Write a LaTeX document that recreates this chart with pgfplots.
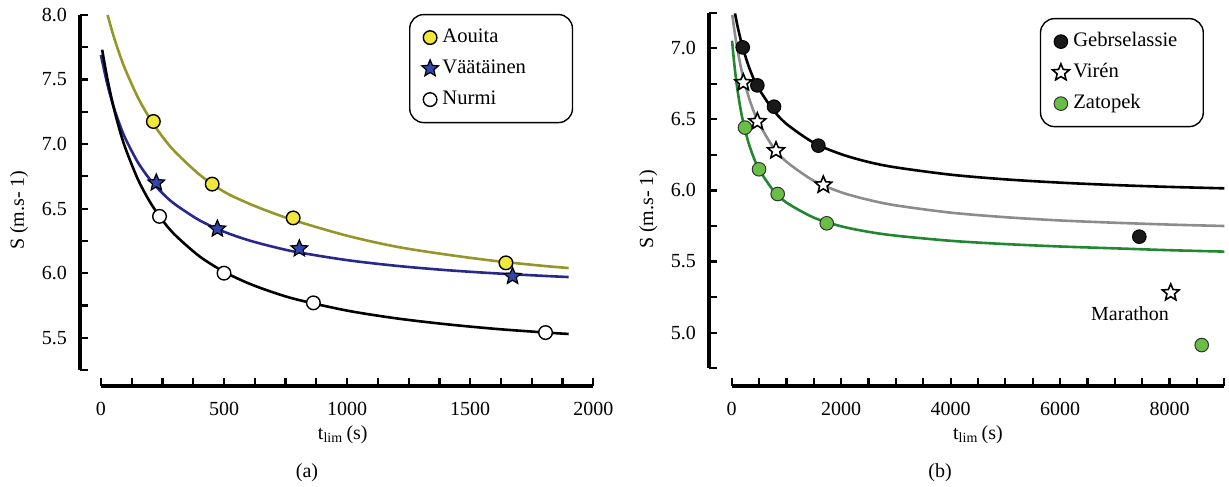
\documentclass[border=0pt]{standalone}
\usepackage{fontspec}
\setmainfont{Liberation Serif}
\usepackage{pgfplots}
\pgfplotsset{compat=1.18}
\definecolor{olivel}{RGB}{150,150,40}
\definecolor{yellowm}{RGB}{240,230,60}
\definecolor{navyl}{RGB}{40,40,140}
\definecolor{bluem}{RGB}{50,70,170}
\definecolor{grayl}{RGB}{140,140,140}
\definecolor{greenl}{RGB}{35,135,50}
\definecolor{greenm}{RGB}{105,190,70}
\pgfdeclareplotmark{fstar}{%
 \pgfpathmoveto{\pgfpointpolar{90}{\pgfplotmarksize}}%
 \pgfpathlineto{\pgfpointpolar{126}{0.45\pgfplotmarksize}}%
 \pgfpathlineto{\pgfpointpolar{162}{\pgfplotmarksize}}%
 \pgfpathlineto{\pgfpointpolar{198}{0.45\pgfplotmarksize}}%
 \pgfpathlineto{\pgfpointpolar{234}{\pgfplotmarksize}}%
 \pgfpathlineto{\pgfpointpolar{270}{0.45\pgfplotmarksize}}%
 \pgfpathlineto{\pgfpointpolar{306}{\pgfplotmarksize}}%
 \pgfpathlineto{\pgfpointpolar{342}{0.45\pgfplotmarksize}}%
 \pgfpathlineto{\pgfpointpolar{18}{\pgfplotmarksize}}%
 \pgfpathlineto{\pgfpointpolar{54}{0.45\pgfplotmarksize}}%
 \pgfpathclose
 \pgfusepathqfillstroke
}
\pgfplotsset{
 panel/.style={
  scale only axis,
  axis lines=left,
  axis line style={draw=none},
  clip=false,
  tick align=inside,
  major tick length=4bp, minor tick length=4bp,
  tick style={black, line width=1.1bp},
  tick label style={font=\fontsize{10bp}{12bp}\selectfont},
  label style={font=\fontsize{10bp}{12bp}\selectfont},
  /pgf/number format/assume math mode=true,
  /pgf/number format/1000 sep={},
  scaled x ticks=false, scaled y ticks=false,
  xticklabel style={yshift=-4.8bp},
  yticklabel style={xshift=-3bp, /pgf/number format/.cd, fixed, fixed zerofill, precision=1},
  xlabel={t\textsubscript{lim}\,(s)},
  ylabel={S (m.s- 1)},
  legend cell align=left,
  legend image code/.code={\draw[mark repeat=1,#1] plot coordinates {(0bp,0bp)};},
  legend style={anchor=north west, draw=black, line width=0.7bp, rounded corners=7bp,
    font=\fontsize{10.3bp}{12bp}\selectfont,
    inner xsep=6bp, inner ysep=4.5bp, row sep=1.5bp, column sep=0bp,
    nodes={inner xsep=2bp, inner ysep=2bp, text height=7.5bp, text depth=2.5bp}},
  curve/.style={line width=1.3bp, smooth, forget plot},
 }
}
\begin{document}
\fontsize{10bp}{12bp}\selectfont
\begin{tikzpicture}
\useasboundingbox (0,0) rectangle (614.5bp,243.5bp);
% ---------------- panel (a)
\begin{axis}[panel,
  at={(40bp,50.5bp)}, anchor=south west,
  width=256.65bp, height=185.5bp,
  xmin=-85, xmax=2000, ymin=5.126, ymax=8.0,
  xtick={0,500,1000,1500,2000},
  minor xtick={125,250,375,625,750,875,1125,1250,1375,1625,1750,1875},
  ytick={5.5,6.0,6.5,7.0,7.5,8.0},
  minor ytick={5.25,5.75,6.25,6.75,7.25,7.75},
  every axis x label/.style={at={(axis description cs:0.512,-0.132)}, anchor=center},
  every axis y label/.style={at={(axis description cs:-0.1188,0.474)}, rotate=90, anchor=center},
  legend style={at={(axis description cs:0.641,1.003)}},
]
\draw[line width=1.7bp] (axis cs:0,5.126) -- (axis cs:2000,5.126);
\draw[line width=1.7bp] (axis cs:-85,5.25) -- (axis cs:-85,8.0);
\addplot[curve, olivel] coordinates {(27,8.000) (50,7.846) (75,7.700) (100,7.573) (150,7.362) (200,7.194) (250,7.057) (300,6.943) (400,6.764) (500,6.631) (600,6.540) (700,6.465) (800,6.400) (1000,6.290) (1200,6.205) (1400,6.145) (1600,6.095) (1800,6.056) (1900,6.040)};
\addplot[curve, navyl] coordinates {(0,7.690) (25,7.472) (50,7.298) (75,7.158) (100,7.041) (150,6.859) (200,6.724) (250,6.619) (300,6.535) (400,6.410) (500,6.321) (600,6.255) (700,6.204) (800,6.162) (1000,6.101) (1200,6.057) (1400,6.024) (1600,5.999) (1800,5.979) (1900,5.970)};
\addplot[curve, black] coordinates {(5,7.731) (25,7.517) (50,7.297) (75,7.116) (100,6.965) (150,6.728) (200,6.549) (250,6.410) (300,6.298) (400,6.131) (500,6.011) (600,5.921) (700,5.851) (800,5.794) (1000,5.710) (1200,5.650) (1400,5.605) (1600,5.569) (1800,5.541) (1900,5.529)};
\addplot[only marks, mark=*, mark size=3.4bp, mark options={fill=yellowm, draw=black, line width=0.7bp, sharp corners}]
  coordinates {(213,7.175) (452,6.690) (781,6.428) (1645,6.080)};
\addlegendentry{\makebox[57bp][l]{Aouita}}
\addplot[only marks, mark=fstar, mark size=4.4bp, mark options={fill=bluem, draw=black, line width=0.6bp, sharp corners}]
  coordinates {(225,6.700) (473,6.343) (806,6.190) (1672,5.976)};
\addlegendentry{\makebox[57bp][l]{Väätäinen}}
\addplot[only marks, mark=*, mark size=3.4bp, mark options={fill=white, draw=black, line width=0.7bp, sharp corners}]
  coordinates {(238,6.440) (500,6.000) (863,5.770) (1806,5.540)};
\addlegendentry{\makebox[57bp][l]{Nurmi}}
\end{axis}
% ---------------- panel (b)
\begin{axis}[panel,
  at={(354.5bp,50.5bp)}, anchor=south west,
  width=257.65bp, height=186.65bp,
  xmin=-415, xmax=9000, ymin=4.625, ymax=7.25,
  xtick={0,2000,4000,6000,8000},
  minor xtick={500,1000,1500,2500,3000,3500,4500,5000,5500,6500,7000,7500,8500,9000},
  ytick={5.0,5.5,6.0,6.5,7.0},
  minor ytick={4.75,5.25,5.75,6.25,6.75,7.25},
  every axis x label/.style={at={(axis description cs:0.522,-0.131)}, anchor=center},
  every axis y label/.style={at={(axis description cs:-0.118,0.474)}, rotate=90, anchor=center},
  legend style={at={(axis description cs:0.642,0.986)}},
]
\draw[line width=1.7bp] (axis cs:0,4.625) -- (axis cs:9000,4.625);
\draw[line width=1.7bp] (axis cs:-415,4.75) -- (axis cs:-415,7.25);
\addplot[curve, black] coordinates {(60,7.245) (100,7.167) (150,7.082) (200,7.007) (300,6.884) (400,6.786) (500,6.712) (750,6.570) (1000,6.468) (1500,6.335) (2000,6.255) (2500,6.200) (3000,6.162) (4000,6.111) (5000,6.078) (6000,6.055) (7000,6.038) (8000,6.025) (9000,6.015)};
\addplot[curve, grayl] coordinates {(11,7.234) (50,7.123) (100,7.002) (150,6.900) (200,6.812) (300,6.670) (400,6.558) (500,6.469) (750,6.309) (1000,6.202) (1500,6.068) (2000,5.987) (2500,5.934) (3000,5.895) (4000,5.844) (5000,5.812) (6000,5.789) (7000,5.773) (8000,5.760) (9000,5.750)};
\addplot[curve, greenl] coordinates {(6,7.053) (50,6.878) (100,6.722) (150,6.598) (200,6.498) (300,6.344) (400,6.233) (500,6.148) (750,6.005) (1000,5.915) (1500,5.809) (2000,5.748) (2500,5.709) (3000,5.682) (4000,5.646) (5000,5.623) (6000,5.606) (7000,5.593) (8000,5.580) (9000,5.570)};
\addplot[only marks, mark=*, mark size=3.4bp, mark options={fill=black!90, draw=black, line width=0.5bp, sharp corners}]
  coordinates {(201,7.006) (468,6.739) (773,6.589) (1583,6.315) (7447,5.675)};
\addlegendentry{\makebox[57bp][l]{Gebrselassie}}
\addplot[only marks, mark=fstar, mark size=4.4bp, mark options={fill=white, draw=black, line width=0.8bp, sharp corners}]
  coordinates {(212,6.758) (468,6.484) (809,6.280) (1674,6.039) (8021,5.281)};
\addlegendentry{\makebox[57bp][l]{Virén}}
\addplot[only marks, mark=*, mark size=3.4bp, mark options={fill=greenm, draw=black!80, line width=0.5bp, sharp corners}]
  coordinates {(243,6.442) (499,6.149) (840,5.975) (1736,5.769) (8587,4.913)};
\addlegendentry{\makebox[57bp][l]{Zatopek}}
\node[font=\fontsize{10bp}{12bp}\selectfont] at (axis cs:7278,5.136) {Marathon};
\end{axis}
\node[font=\fontsize{10bp}{12bp}\selectfont] at (153.5bp,7bp) {(a)};
\node[font=\fontsize{10bp}{12bp}\selectfont] at (470bp,7bp) {(b)};
\end{tikzpicture}
\end{document}
